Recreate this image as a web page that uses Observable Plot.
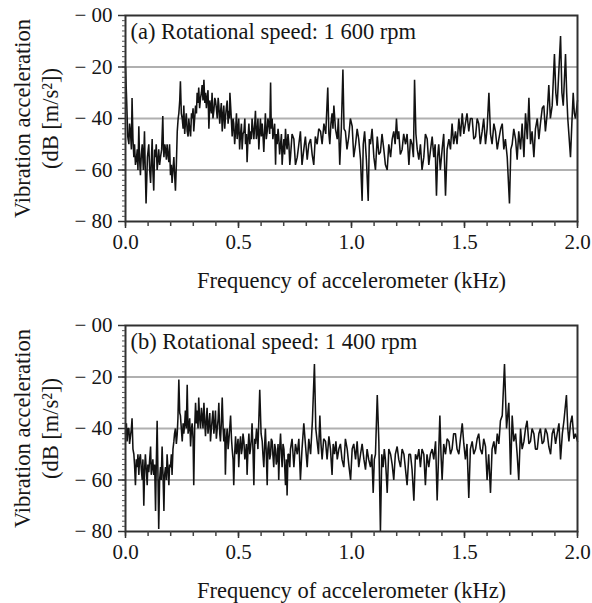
<!DOCTYPE html>
<html>
<head>
<meta charset="utf-8">
<script src="https://cdn.jsdelivr.net/npm/d3@7"></script>
<script src="https://cdn.jsdelivr.net/npm/@observablehq/plot@0.6"></script>
<style>
  html, body { margin: 0; padding: 0; background: #fff; }
  #chart > div, #chart svg { display: block; }
</style>
</head>
<body>
<div id="chart"></div>
<script>
// ---- data ----
const titleA = "(a) Rotational speed: 1 600 rpm";
const titleB = "(b) Rotational speed: 1 400 rpm";
const xLabel = "Frequency of accelerometer (kHz)";
const yLabel1 = "Vibration acceleration";
const yLabel2 = "(dB [m/s²])";

const yTickValues = [0, -20, -40, -60, -80];
const yTickLabels = ["− 00", "− 20", "− 40", "− 60", "− 80"];
const xTickValues = [0, 0.5, 1.0, 1.5, 2.0];
const xTickLabels = ["0.0", "0.5", "1.0", "1.5", "2.0"];
const gridValues = [-20, -40, -60];

// Panel (a): 1 600 rpm — frequency (kHz)
const freqA = [
  0.000,0.004,0.010,0.015,0.018,0.022,0.026,0.029,0.033,0.037,
  0.040,0.044,0.048,0.052,0.055,0.059,0.062,0.066,0.070,0.074,
  0.079,0.084,0.087,0.091,0.097,0.103,0.107,0.111,0.115,0.118,
  0.121,0.125,0.129,0.133,0.136,0.140,0.144,0.147,0.151,0.155,
  0.160,0.165,0.168,0.170,0.174,0.177,0.181,0.184,0.188,0.192,
  0.195,0.199,0.203,0.206,0.210,0.214,0.218,0.221,0.225,0.229,
  0.233,0.236,0.240,0.243,0.247,0.251,0.255,0.258,0.262,0.265,
  0.269,0.273,0.277,0.280,0.284,0.288,0.292,0.295,0.299,0.302,
  0.306,0.310,0.314,0.317,0.321,0.324,0.328,0.332,0.336,0.339,
  0.343,0.347,0.351,0.354,0.358,0.361,0.365,0.369,0.373,0.376,
  0.380,0.383,0.387,0.391,0.395,0.398,0.402,0.406,0.410,0.413,
  0.417,0.420,0.424,0.428,0.432,0.435,0.439,0.442,0.446,0.450,
  0.454,0.457,0.460,0.462,0.467,0.472,0.476,0.479,0.483,0.487,
  0.491,0.494,0.498,0.501,0.505,0.509,0.513,0.516,0.520,0.524,
  0.528,0.531,0.535,0.538,0.542,0.546,0.550,0.553,0.557,0.560,
  0.564,0.568,0.572,0.575,0.579,0.583,0.586,0.590,0.594,0.597,
  0.601,0.605,0.608,0.612,0.616,0.619,0.623,0.627,0.630,0.634,
  0.638,0.642,0.645,0.649,0.652,0.656,0.660,0.664,0.667,0.671,
  0.675,0.678,0.682,0.686,0.690,0.693,0.697,0.701,0.704,0.708,
  0.712,0.715,0.719,0.723,0.727,0.730,0.737,0.745,0.752,0.760,
  0.767,0.774,0.781,0.789,0.796,0.804,0.811,0.819,0.826,0.833,
  0.840,0.848,0.855,0.863,0.870,0.878,0.886,0.895,0.900,0.904,
  0.909,0.914,0.918,0.922,0.929,0.937,0.942,0.948,0.955,0.962,
  0.967,0.973,0.980,0.988,0.995,1.003,1.010,1.018,1.025,1.032,
  1.040,1.047,1.052,1.058,1.066,1.074,1.079,1.084,1.091,1.099,
  1.106,1.114,1.121,1.128,1.135,1.143,1.150,1.158,1.165,1.173,
  1.180,1.187,1.193,1.199,1.204,1.209,1.216,1.224,1.231,1.239,
  1.246,1.254,1.261,1.268,1.274,1.279,1.285,1.291,1.298,1.305,
  1.312,1.320,1.327,1.335,1.342,1.350,1.357,1.364,1.370,1.376,
  1.381,1.386,1.393,1.401,1.408,1.416,1.423,1.431,1.438,1.445,
  1.452,1.460,1.467,1.475,1.482,1.490,1.497,1.504,1.511,1.519,
  1.526,1.534,1.541,1.549,1.556,1.563,1.570,1.578,1.585,1.593,
  1.600,1.608,1.615,1.622,1.630,1.637,1.645,1.652,1.660,1.667,
  1.674,1.681,1.689,1.699,1.705,1.711,1.718,1.726,1.733,1.740,
  1.748,1.755,1.763,1.770,1.778,1.785,1.792,1.799,1.807,1.814,
  1.822,1.829,1.836,1.844,1.851,1.858,1.866,1.873,1.880,1.888,
  1.898,1.904,1.910,1.925,1.931,1.937,1.947,1.952,1.957,1.969,
  1.975,1.981,1.986,1.991,2.000];
// Panel (a): vibration acceleration (dB)
const dbA = [
  -20,-30,-47,-50,-42,-45,-52,-32,-48,-55,
  -50,-58,-56,-52,-60,-43,-55,-62,-54,-50,
  -60,-45,-58,-73,-55,-50,-60,-65,-55,-48,
  -60,-68,-52,-55,-50,-60,-56,-52,-58,-55,
  -52,-39,-52,-55,-50,-52,-56,-50,-54,-57,
  -50,-62,-58,-65,-60,-55,-63,-68,-58,-45,
  -40,-38,-33,-25.5,-38,-40,-44,-35,-46,-42,
  -38,-45,-47,-40,-44,-47,-38,-40,-36,-45,
  -40,-35,-38,-30,-34,-28,-36,-32,-30,-27,
  -33,-25,-34,-30,-36,-32,-29,-44,-33,-35,
  -38,-30,-40,-37,-32,-33,-36,-40,-32,-35,
  -42,-38,-34,-45,-38,-35,-44,-40,-36,-33,
  -42,-37,-40,-30,-38,-47,-40,-42,-50,-45,
  -38,-48,-44,-40,-52,-46,-42,-52,-46,-45,
  -40,-50,-46,-57,-48,-42,-50,-45,-48,-40,
  -44,-48,-42,-37,-48,-45,-40,-52,-45,-40,
  -47,-42,-46,-53,-44,-38,-48,-45,-40,-42,
  -46,-26,-44,-40,-48,-45,-42,-58,-46,-50,
  -44,-47,-54,-50,-46,-58,-52,-48,-54,-44,
  -50,-52,-46,-50,-58,-55,-46,-48,-58,-55,
  -50,-45,-58,-52,-47,-56,-50,-48,-54,-58,
  -47,-50,-44,-45,-50,-42,-46,-28,-46,-50,
  -42,-38,-44,-35,-44,-48,-40,-58,-44,-21,
  -44,-45,-52,-47,-40,-43,-55,-50,-44,-48,
  -56,-72,-50,-45,-56,-72,-48,-50,-44,-55,
  -60,-47,-54,-53,-46,-52,-58,-60,-50,-55,
  -48,-45,-50,-40,-48,-45,-54,-52,-46,-50,
  -46,-58,-48,-50,-55,-25,-46,-52,-56,-50,
  -60,-55,-46,-48,-58,-52,-47,-55,-50,-70,
  -55,-50,-60,-52,-46,-70,-52,-48,-52,-42,
  -50,-45,-50,-40,-47,-38,-46,-42,-38,-45,
  -40,-40,-48,-47,-40,-42,-50,-45,-40,-50,
  -44,-30,-46,-50,-42,-45,-52,-48,-44,-42,
  -52,-48,-55,-73,-52,-50,-44,-48,-56,-45,
  -52,-42,-55,-38,-48,-32,-50,-45,-55,-44,
  -40,-48,-42,-36,-35,-45,-38,-27,-40,-35,
  -15,-30,-35,-8,-30,-35,-15,-30,-40,-55,
  -42,-30,-38,-40,-33];

// Panel (b): 1 400 rpm — frequency (kHz)
const freqB = [
  0.000,0.004,0.007,0.011,0.015,0.018,0.022,0.026,0.029,0.033,
  0.037,0.040,0.044,0.048,0.052,0.055,0.059,0.062,0.066,0.070,
  0.074,0.077,0.081,0.085,0.088,0.092,0.096,0.099,0.103,0.107,
  0.111,0.114,0.118,0.121,0.125,0.129,0.133,0.136,0.140,0.144,
  0.147,0.151,0.155,0.158,0.162,0.166,0.170,0.173,0.177,0.181,
  0.184,0.188,0.192,0.195,0.199,0.203,0.206,0.210,0.214,0.217,
  0.221,0.225,0.229,0.232,0.236,0.240,0.243,0.247,0.251,0.255,
  0.258,0.262,0.265,0.269,0.273,0.277,0.280,0.284,0.288,0.292,
  0.295,0.299,0.302,0.306,0.310,0.314,0.317,0.321,0.324,0.328,
  0.332,0.336,0.339,0.343,0.347,0.351,0.354,0.358,0.361,0.365,
  0.369,0.373,0.376,0.380,0.383,0.387,0.391,0.395,0.398,0.402,
  0.406,0.410,0.413,0.417,0.420,0.424,0.428,0.432,0.435,0.439,
  0.442,0.446,0.450,0.454,0.457,0.461,0.465,0.469,0.472,0.476,
  0.479,0.483,0.487,0.491,0.494,0.498,0.501,0.505,0.509,0.513,
  0.516,0.520,0.524,0.528,0.531,0.535,0.538,0.542,0.546,0.550,
  0.553,0.557,0.560,0.564,0.568,0.572,0.575,0.580,0.586,0.594,
  0.600,0.605,0.608,0.612,0.616,0.619,0.623,0.627,0.630,0.634,
  0.638,0.642,0.645,0.649,0.652,0.656,0.660,0.664,0.667,0.671,
  0.675,0.678,0.682,0.686,0.690,0.693,0.697,0.701,0.704,0.708,
  0.712,0.715,0.719,0.723,0.727,0.730,0.737,0.745,0.752,0.760,
  0.767,0.774,0.781,0.789,0.796,0.804,0.811,0.819,0.827,0.836,
  0.842,0.848,0.854,0.860,0.865,0.870,0.877,0.885,0.892,0.900,
  0.907,0.914,0.919,0.925,0.931,0.937,0.944,0.951,0.958,0.966,
  0.973,0.981,0.988,0.996,1.003,1.010,1.018,1.025,1.032,1.040,
  1.047,1.055,1.062,1.069,1.076,1.084,1.090,1.096,1.101,1.106,
  1.114,1.121,1.128,1.134,1.140,1.145,1.150,1.154,1.158,1.165,
  1.173,1.180,1.187,1.194,1.202,1.209,1.217,1.224,1.232,1.239,
  1.246,1.254,1.261,1.268,1.276,1.283,1.291,1.298,1.305,1.312,
  1.320,1.327,1.334,1.342,1.349,1.357,1.364,1.372,1.379,1.391,
  1.396,1.401,1.408,1.416,1.423,1.431,1.438,1.445,1.452,1.460,
  1.467,1.475,1.482,1.490,1.497,1.504,1.511,1.519,1.526,1.534,
  1.541,1.549,1.556,1.563,1.570,1.578,1.585,1.593,1.600,1.607,
  1.615,1.622,1.630,1.637,1.645,1.652,1.659,1.667,1.677,1.686,
  1.696,1.704,1.711,1.718,1.726,1.733,1.740,1.748,1.755,1.763,
  1.770,1.777,1.785,1.792,1.799,1.807,1.814,1.822,1.829,1.836,
  1.844,1.851,1.858,1.866,1.873,1.881,1.888,1.895,1.903,1.910,
  1.918,1.925,1.933,1.940,1.951,1.957,1.962,1.969,1.976,1.984,
  1.991,2.000];
// Panel (b): vibration acceleration (dB)
const dbB = [
  -42,-38,-45,-40,-40,-46,-43,-40,-36,-48,
  -50,-54,-62,-52,-55,-50,-58,-52,-50,-56,
  -60,-52,-70,-55,-50,-56,-62,-54,-57,-52,
  -47,-58,-55,-52,-58,-54,-72,-55,-37,-60,
  -79,-60,-55,-60,-47,-58,-72,-58,-55,-60,
  -50,-56,-62,-54,-55,-50,-58,-48,-45,-42,
  -40,-46,-42,-36,-21,-34,-35,-40,-45,-38,
  -42,-38,-33,-40,-23,-42,-40,-36,-47,-40,
  -38,-44,-62,-40,-30,-38,-33,-40,-28,-36,
  -40,-32,-35,-40,-30,-38,-43,-36,-32,-42,
  -38,-34,-45,-40,-37,-33,-42,-38,-33,-44,
  -40,-36,-30,-42,-45,-38,-28,-40,-45,-40,
  -58,-44,-40,-48,-45,-40,-35,-44,-48,-52,
  -62,-50,-43,-50,-48,-44,-55,-47,-43,-50,
  -48,-42,-45,-52,-50,-46,-58,-48,-42,-50,
  -48,-44,-38,-48,-62,-44,-46,-40,-48,-25,
  -42,-45,-50,-55,-46,-40,-50,-62,-48,-45,
  -52,-50,-44,-45,-50,-55,-46,-48,-54,-52,
  -46,-60,-48,-42,-50,-55,-46,-48,-54,-62,
  -52,-66,-50,-50,-55,-48,-44,-55,-46,-50,
  -44,-60,-48,-38,-46,-55,-44,-50,-37,-15,
  -40,-45,-50,-35,-46,-52,-44,-45,-52,-43,
  -48,-58,-46,-50,-45,-52,-48,-46,-52,-55,
  -44,-48,-54,-60,-48,-46,-52,-45,-55,-50,
  -46,-52,-56,-48,-52,-55,-50,-65,-52,-50,
  -27,-45,-80,-50,-55,-48,-52,-58,-65,-48,
  -50,-54,-60,-50,-47,-52,-55,-48,-50,-56,
  -62,-50,-50,-56,-68,-50,-52,-48,-55,-48,
  -50,-62,-50,-55,-50,-48,-52,-45,-68,-35,
  -50,-60,-46,-50,-44,-45,-50,-48,-42,-42,
  -48,-50,-44,-38,-46,-52,-46,-67,-48,-45,
  -50,-48,-44,-42,-48,-50,-44,-47,-60,-50,
  -65,-48,-45,-50,-42,-46,-37,-35,-15,-40,
  -30,-58,-35,-45,-42,-50,-60,-40,-48,-45,
  -40,-37,-46,-45,-40,-42,-48,-48,-42,-40,
  -46,-45,-40,-42,-47,-50,-42,-40,-46,-42,
  -38,-52,-42,-37,-27,-40,-45,-38,-35,-44,
  -42,-45];

// ---- drawing ----
const font = "'Liberation Serif', 'Times New Roman', serif";
const ink = "#161616";

function panel(freq, db, title, height, marginTop) {
  const n = Math.min(freq.length, db.length);
  const data = freq.slice(0, n).map((f, i) => ({f, db: db[i]}));
  return Plot.plot({
    width: 592,
    height,
    marginLeft: 125,
    marginRight: 15,
    marginTop,
    marginBottom: height - marginTop - 206,
    style: {fontFamily: font, fontSize: "21px", color: ink, background: "#fff"},
    x: {domain: [0, 2]},
    y: {domain: [-80, 0]},
    marks: [
      Plot.gridY(gridValues, {stroke: "#b0b0b0", strokeOpacity: 1, strokeWidth: 1.8}),
      Plot.line(data, {x: "f", y: "db", stroke: "#121212", strokeWidth: 1.55, strokeLinejoin: "miter"}),
      Plot.frame({stroke: "#303030", strokeWidth: 2}),
      // minor y ticks every 2 dB
      Plot.axisY(d3.range(-80, 1, 2), {tickSize: 3, tickFormat: () => "", label: null, stroke: "#555"}),
      // major y ticks with labels
      Plot.axisY(yTickValues, {tickSize: 7, tickPadding: 6, tickFormat: (d) => yTickLabels[yTickValues.indexOf(d)], label: null, fontSize: 21, stroke: "#333", strokeWidth: 1.5, fill: ink}),
      // minor x ticks every 0.1 kHz
      Plot.axisX(d3.range(0, 21).map(i => i / 10), {tickSize: 5, tickFormat: () => "", label: null, stroke: "#444", strokeWidth: 1.5}),
      // major x ticks with labels
      Plot.axisX(xTickValues, {tickSize: 7, tickPadding: 6, tickFormat: (d) => xTickLabels[xTickValues.indexOf(d)], label: null, fontSize: 21, stroke: "#333", strokeWidth: 1.5, fill: ink}),
      Plot.text([title], {frameAnchor: "top-left", dx: 5, dy: 8, textAnchor: "start", lineAnchor: "top", fontSize: 22.5, fill: ink}),
      Plot.text([xLabel], {frameAnchor: "bottom", dy: 59, textAnchor: "middle", lineAnchor: "middle", fontSize: 22.5, fill: ink}),
      Plot.text([yLabel1], {frameAnchor: "left", dx: -103, rotate: -90, textAnchor: "middle", lineAnchor: "middle", fontSize: 22.5, fill: ink}),
      Plot.text([yLabel2], {frameAnchor: "left", dx: -75, rotate: -90, textAnchor: "middle", lineAnchor: "middle", fontSize: 22.5, fill: ink})
    ]
  });
}

const root = document.getElementById("chart");
root.append(panel(freqA, dbA, titleA, 305, 15));
root.append(panel(freqB, dbB, titleB, 298, 20));
</script>
</body>
</html>
